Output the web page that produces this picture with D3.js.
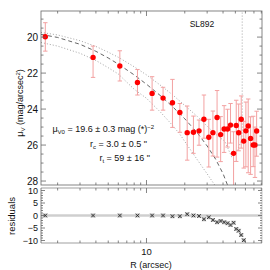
<!DOCTYPE html>
<html>
<head>
<meta charset="utf-8">
<script src="https://cdn.jsdelivr.net/npm/d3@7"></script>
<style>
  body { margin: 0; background: #fff; }
  svg { display: block; font-family: "Liberation Sans", Arial, sans-serif; }
</style>
</head>
<body>
<div id="chart"></div>
<script>
// Surface brightness profile of SL892
var radius  = [1.60, 3.80, 6.17, 8.49, 11.07, 13.5, 16.0, 18.3, 20.9, 23.4, 25.9, 28.3, 30.9, 33.3, 35.9,
               38.3, 40.8, 43.4, 45.8, 48.4, 50.8, 53.1, 55.6, 58.2, 60.5, 63.1, 65.9, 69.1, 71.3, 73.5];
var mu      = [19.98, 21.13, 21.61, 22.52, 23.13, 23.39, 23.65, 24.19, 25.31, 25.29, 25.21, 24.57, 25.57, 25.31, 24.47,
               25.42, 25.11, 25.11, 24.89, 26.46, 24.91, 25.32, 24.57, 25.78, 25.21, 24.94, 25.63, 26.0, 26.0, 25.22];
var errUp   = [0.78, 0.63, 0.85, 0.72, 0.93, 0.6, 1.3, 0.5, 1.48, 0.9, 0.6, 1.35, 1.0, 1.2, 1.5,
               1.0, 1.3, 1.1, 1.2, 1.2, 1.4, 1.6, 1.3, 1.1, 1.6, 1.5, 1.2, 1.6, 1.0, 1.1];
var errDown = [0.8, 1.11, 0.83, 0.7, 0.93, 0.67, 1.37, 1.1, 1.53, 1.17, 0.8, 1.05, 1.65, 1.3, 2.2,
               1.5, 1.3, 1.0, 1.0, 2.0, 2.0, 1.0, 1.6, 1.5, 2.0, 2.6, 2.0, 1.2, 1.8, 1.4];

// residuals (only inside the tidal radius)
var residuals = [0, 0, 0, 0, 0, 0, -0.3, -0.3, 0.5, 0, -0.2, -1.5, -0.7, -1.8, -2.7,
                 -2.2, -2.7, -3.1, -3.8, -2.9, -5.4, -6.1, -7.8, -9.9];

// King fit and the two bounding models
var fitR  = [1.48, 2, 3, 4, 5, 6, 8, 10, 13, 16, 20, 25, 30, 35, 40, 45];
var fitMu = [19.85, 20.02, 20.40, 20.79, 21.16, 21.50, 22.10, 22.62, 23.28, 23.86, 24.54, 25.31, 26.05, 26.79, 27.59, 28.51];
var hiR   = [1.48, 2, 3, 4, 5, 6, 8, 10, 13, 16, 20, 25, 30, 35, 41.4, 46.7, 51.0, 56.0, 56.6, 56.6];
var hiMu  = [19.74, 19.88, 20.2, 20.52, 20.84, 21.12, 21.65, 22.1, 22.7, 23.2, 23.8, 24.4, 24.95, 25.4, 25.8, 26.65, 26.4, 25.72, 25.2, 18.0];
var loR   = [1.48, 2, 3, 4, 5, 6, 8, 10, 13, 16, 18.3, 20, 25, 30, 35, 38];
var loMu  = [20.3, 20.5, 20.9, 21.3, 21.7, 22.05, 22.9, 23.4, 24.2, 24.9, 25.4, 25.8, 26.8, 27.6, 28.3, 28.8];

var yTicks = [20, 22, 24, 26, 28];
var resTicks = [10, 5, 0, -5, -10];
var xLabelTicks = [10];
var xMinorTicks = [2, 3, 4, 5, 6, 7, 8, 9, 20, 30, 40, 50, 60, 70, 80];

var W = 270, H = 270;
var left = 41, right = 262, mainTop = 11, mainBottom = 185, resTop = 188, resBottom = 243;
var frameColor = "#666";

var svg = d3.select("#chart").append("svg")
    .attr("width", W).attr("height", H);

var x = d3.scaleLog().domain([1.48, 81]).range([left, right]);
var y = d3.scaleLinear().domain([18.55, 28.22]).range([mainTop, mainBottom]);
var yr = d3.scaleLinear().domain([11, -11]).range([resTop, resBottom]);

svg.append("clipPath").attr("id", "clipMain")
  .append("rect").attr("x", left).attr("y", mainTop)
  .attr("width", right - left).attr("height", mainBottom - mainTop);

// residual panel zero line
svg.append("line").attr("x1", left).attr("x2", right)
  .attr("y1", yr(0)).attr("y2", yr(0))
  .attr("stroke", "#cfcfcf").attr("stroke-width", 2.5);

// model curves
var curve = svg.append("g").attr("clip-path", "url(#clipMain)");
function drawCurve(rs, ms, dash, color) {
  var pts = rs.map(function(r, i) { return [r, ms[i]]; });
  curve.append("path")
    .attr("d", d3.line().x(function(d) { return x(d[0]); }).y(function(d) { return y(d[1]); })(pts))
    .attr("fill", "none").attr("stroke", color).attr("stroke-width", 0.9)
    .attr("stroke-dasharray", dash);
}
drawCurve(hiR, hiMu, "1,2", "#999");
drawCurve(loR, loMu, "1,2", "#999");
drawCurve(fitR, fitMu, "4,3", "#555");

// error bars
var pts = svg.append("g").attr("clip-path", "url(#clipMain)");
radius.forEach(function(r, i) {
  var cx = x(r), y0 = y(mu[i] - errUp[i]), y1 = y(mu[i] + errDown[i]);
  pts.append("line").attr("x1", cx).attr("x2", cx).attr("y1", y0).attr("y2", y1)
    .attr("stroke", "#f3a1a1").attr("stroke-width", 1);
  [y0, y1].forEach(function(yy) {
    pts.append("line").attr("x1", cx - 2.2).attr("x2", cx + 2.2).attr("y1", yy).attr("y2", yy)
      .attr("stroke", "#f3a1a1").attr("stroke-width", 1);
  });
});
pts.selectAll("circle").data(radius).enter().append("circle")
  .attr("cx", function(d) { return x(d); })
  .attr("cy", function(d, i) { return y(mu[i]); })
  .attr("r", 2.7).attr("fill", "#ff0000");

// residual markers
var res = svg.append("g");
residuals.forEach(function(v, i) {
  var cx = x(radius[i]), cy = yr(v);
  res.append("rect").attr("x", cx - 2).attr("y", cy - 2).attr("width", 4).attr("height", 4)
    .attr("fill", "#bbb");
  res.append("path")
    .attr("d", "M" + (cx - 1.8) + "," + (cy - 1.8) + "L" + (cx + 1.8) + "," + (cy + 1.8) +
               "M" + (cx - 1.8) + "," + (cy + 1.8) + "L" + (cx + 1.8) + "," + (cy - 1.8))
    .attr("stroke", "#222").attr("stroke-width", 0.8);
});

// frames
svg.append("rect").attr("x", left).attr("y", mainTop)
  .attr("width", right - left).attr("height", mainBottom - mainTop)
  .attr("fill", "none").attr("stroke", frameColor).attr("stroke-width", 0.8);
svg.append("line").attr("x1", left).attr("x2", right).attr("y1", resTop).attr("y2", resTop)
  .attr("stroke", "#cfcfcf").attr("stroke-width", 2);
svg.append("line").attr("x1", left).attr("x2", right).attr("y1", resBottom).attr("y2", resBottom)
  .attr("stroke", "#cfcfcf").attr("stroke-width", 2);
svg.append("line").attr("x1", left).attr("x2", left).attr("y1", resTop).attr("y2", resBottom)
  .attr("stroke", frameColor).attr("stroke-width", 0.8);
svg.append("line").attr("x1", right).attr("x2", right).attr("y1", resTop).attr("y2", resBottom)
  .attr("stroke", "#bbb").attr("stroke-width", 0.8);

// ticks
var ticks = svg.append("g").attr("stroke", frameColor).attr("stroke-width", 0.8);
function xTicksAt(yy, dir) {
  xLabelTicks.concat(xMinorTicks).forEach(function(t) {
    var len = xLabelTicks.indexOf(t) >= 0 ? 5 : 2.5;
    ticks.append("line").attr("x1", x(t)).attr("x2", x(t))
      .attr("y1", yy).attr("y2", yy + dir * len);
  });
}
xTicksAt(mainTop, 1); xTicksAt(mainBottom, -1);
xTicksAt(resTop, 1); xTicksAt(resBottom, -1);

d3.range(18.5, 28.3, 0.5).forEach(function(v) {
  if (v < 18.55) return;
  var len = yTicks.indexOf(v) >= 0 ? 5 : 2.5;
  ticks.append("line").attr("x1", left).attr("x2", left + len).attr("y1", y(v)).attr("y2", y(v));
  ticks.append("line").attr("x1", right).attr("x2", right - len).attr("y1", y(v)).attr("y2", y(v));
});
d3.range(-10, 11, 1).forEach(function(v) {
  var len = resTicks.indexOf(v) >= 0 ? 4 : 2;
  ticks.append("line").attr("x1", left).attr("x2", left + len).attr("y1", yr(v)).attr("y2", yr(v));
  ticks.append("line").attr("x1", right).attr("x2", right - len).attr("y1", yr(v)).attr("y2", yr(v));
});

// tick labels
svg.selectAll(".ylab").data(yTicks).enter().append("text")
  .attr("x", 38).attr("y", function(d) { return y(d); }).attr("dy", "0.36em")
  .attr("text-anchor", "end").style("font-size", "10px").attr("fill", "#111")
  .text(function(d) { return d; });
svg.selectAll(".rlab").data(resTicks).enter().append("text")
  .attr("x", 38).attr("y", function(d) { return yr(d); }).attr("dy", "0.36em")
  .attr("text-anchor", "end").style("font-size", "9px").attr("fill", "#111")
  .text(function(d) { return d < 0 ? "\u2212" + (-d) : d; });
svg.selectAll(".xlab").data(xLabelTicks).enter().append("text")
  .attr("x", function(d) { return x(d); }).attr("y", 255)
  .attr("text-anchor", "middle").style("font-size", "9.5px").attr("fill", "#111")
  .text(function(d) { return d; });

// axis titles
svg.append("text").attr("x", 151).attr("y", 268).attr("text-anchor", "middle")
  .style("font-size", "9px").attr("fill", "#111").text("R (arcsec)");
svg.append("text").attr("transform", "translate(15,216) rotate(-90)").attr("text-anchor", "middle")
  .style("font-size", "9.5px").attr("fill", "#111").text("residuals");
var yl = svg.append("text").attr("transform", "translate(23,103) rotate(-90)")
  .attr("text-anchor", "middle").style("font-size", "9px").attr("fill", "#111");
yl.append("tspan").text("\u03bc");
yl.append("tspan").attr("dy", 2).style("font-size", "6px").text("V");
yl.append("tspan").attr("dy", -2).text(" (mag/arcsec");
yl.append("tspan").attr("dy", -3).style("font-size", "6px").text("2");
yl.append("tspan").attr("dy", 3).text(")");

// labels
svg.append("text").attr("x", 202).attr("y", 27).attr("text-anchor", "middle")
  .style("font-size", "8.5px").attr("fill", "#111").text("SL892");

var ann = svg.append("g").style("font-size", "9px").attr("fill", "#111");
var l1 = ann.append("text").attr("x", 154).attr("y", 132).attr("text-anchor", "end");
l1.append("tspan").text("\u03bc");
l1.append("tspan").attr("dy", 2).style("font-size", "6px").text("V0");
l1.append("tspan").attr("dy", -2).text(" = 19.6 \u00b1 0.3 mag (*)");
l1.append("tspan").attr("dy", -3.5).style("font-size", "6px").text("\u22122");
var l2 = ann.append("text").attr("x", 147).attr("y", 147).attr("text-anchor", "end");
l2.append("tspan").text("r");
l2.append("tspan").attr("dy", 2).style("font-size", "6px").text("c");
l2.append("tspan").attr("dy", -2).text(" = 3.0 \u00b1 0.5 \"");
var l3 = ann.append("text").attr("x", 150).attr("y", 161).attr("text-anchor", "end");
l3.append("tspan").text("r");
l3.append("tspan").attr("dy", 2).style("font-size", "6px").text("t");
l3.append("tspan").attr("dy", -2).text(" = 59 \u00b1 16 \"");
</script>
</body>
</html>
